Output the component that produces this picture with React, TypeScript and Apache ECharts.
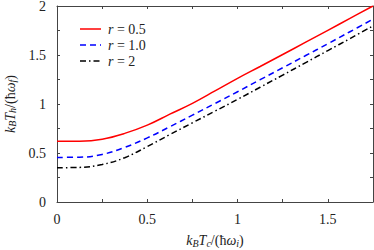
import React, { useEffect, useRef } from "react";
import * as echarts from "echarts";

const tc = [0, 0.125, 0.25, 0.375, 0.5, 0.625, 0.75, 0.875, 1.0, 1.125, 1.25, 1.375, 1.5, 1.625, 1.75];
const red = [0.62, 0.621, 0.641, 0.7, 0.784, 0.896, 1.006, 1.133, 1.262, 1.383, 1.505, 1.628, 1.752, 1.876, 2.0];
const blue = [0.455, 0.457, 0.485, 0.557, 0.654, 0.768, 0.886, 1.005, 1.125, 1.248, 1.37, 1.492, 1.615, 1.74, 1.865];
const black = [0.35, 0.353, 0.382, 0.452, 0.566, 0.688, 0.808, 0.927, 1.047, 1.171, 1.295, 1.42, 1.545, 1.67, 1.797];
const legendValues = ["0.5", "1.0", "2"];
const seriesNames = legendValues.map((v) => "r = " + v);
const colors = ["#ff0000", "#0000ff", "#000000"];
const dashes: (number[] | null)[] = [null, [6, 4], [6, 3, 1.5, 3]];

const FONT = "Liberation Serif";
const AXIS = "#444";

export default function App() {
  const ref = useRef<HTMLDivElement>(null);
  useEffect(() => {
    if (!ref.current) return;
    const chart = echarts.init(ref.current, undefined, { renderer: "svg" });
    const mk = (ys: number[]) => tc.map((x, i) => [x, ys[i]]);
    const rich = {
      i: { fontFamily: FONT, fontStyle: "italic", fontSize: 14, lineHeight: 15, color: "#222" },
      n: { fontFamily: FONT, fontSize: 14, lineHeight: 15, color: "#222" },
      s: { fontFamily: FONT, fontStyle: "italic", fontSize: 10, lineHeight: 9, verticalAlign: "bottom", color: "#222" },
    };
    const legRich = {
      i: { fontFamily: FONT, fontStyle: "italic", fontSize: 14, color: "#222" },
      n: { fontFamily: FONT, fontSize: 14, color: "#222" },
    };
    const baseAxis = {
      axisLine: { show: true, onZero: false, lineStyle: { color: AXIS, width: 1 } },
      axisTick: { show: true, inside: true, length: 3, lineStyle: { color: AXIS } },
      minorTick: { show: true, splitNumber: 2, length: 3, lineStyle: { color: AXIS } },
      splitLine: { show: false },
    };
    const labelStyle = { fontFamily: FONT, fontSize: 14, color: "#222" };
    const legendRows = [29, 45, 61];
    const graphic: any[] = [];
    seriesNames.forEach((name, k) => {
      graphic.push({
        type: "line",
        x: 80,
        y: legendRows[k],
        shape: { x1: 0, y1: 0, x2: 21, y2: 0 },
        style: { stroke: colors[k], lineWidth: 1.5, lineDash: dashes[k] || undefined },
      });
      graphic.push({
        type: "text",
        x: 108,
        y: legendRows[k],
        style: {
          text: `{i|r}{n| = ${legendValues[k]}}`,
          rich: legRich,
          verticalAlign: "middle",
          fill: "#222",
        },
      });
    });
    chart.setOption({
      animation: false,
      grid: { left: 57, right: 1, top: 6, bottom: 48, containLabel: false, outerBoundsMode: "none" },
      graphic,
      xAxis: [
        {
          ...baseAxis,
          type: "value",
          min: 0,
          max: 1.75,
          interval: 0.5,
          axisLabel: { ...labelStyle, margin: 10, showMaxLabel: false },
          name: "{i|k}{s|B}{i|T}{s|c}{n|/(ħ}{i|ω}{s|i}{n|)}",
          nameLocation: "middle",
          nameGap: 31,
          nameTextStyle: { rich },
        },
        {
          ...baseAxis,
          type: "value",
          position: "top",
          min: 0,
          max: 1.75,
          interval: 0.5,
          axisLabel: { show: false },
        },
      ],
      yAxis: [
        {
          ...baseAxis,
          type: "value",
          min: 0,
          max: 2,
          interval: 0.5,
          axisLabel: { ...labelStyle, margin: 11 },
          name: "{i|k}{s|B}{i|T}{s|h}{n|/(ħ}{i|ω}{s|f}{n|)}",
          nameLocation: "middle",
          nameRotate: 90,
          nameGap: 38,
          nameTextStyle: { rich },
        },
        {
          ...baseAxis,
          type: "value",
          position: "right",
          min: 0,
          max: 2,
          interval: 0.5,
          axisLabel: { show: false },
        },
      ],
      series: [red, blue, black].map((ys, k) => ({
        name: seriesNames[k],
        type: "line",
        data: mk(ys),
        showSymbol: false,
        symbol: "none",
        smooth: 0.4,
        lineStyle: { color: colors[k], width: 1.5, type: dashes[k] || "solid" },
        itemStyle: { color: colors[k] },
      })),
    });
    return () => chart.dispose();
  }, []);
  return (
    <div
      ref={ref}
      style={{ position: "absolute", left: 0, top: 0, width: 374, height: 250, background: "#fff" }}
    />
  );
}
